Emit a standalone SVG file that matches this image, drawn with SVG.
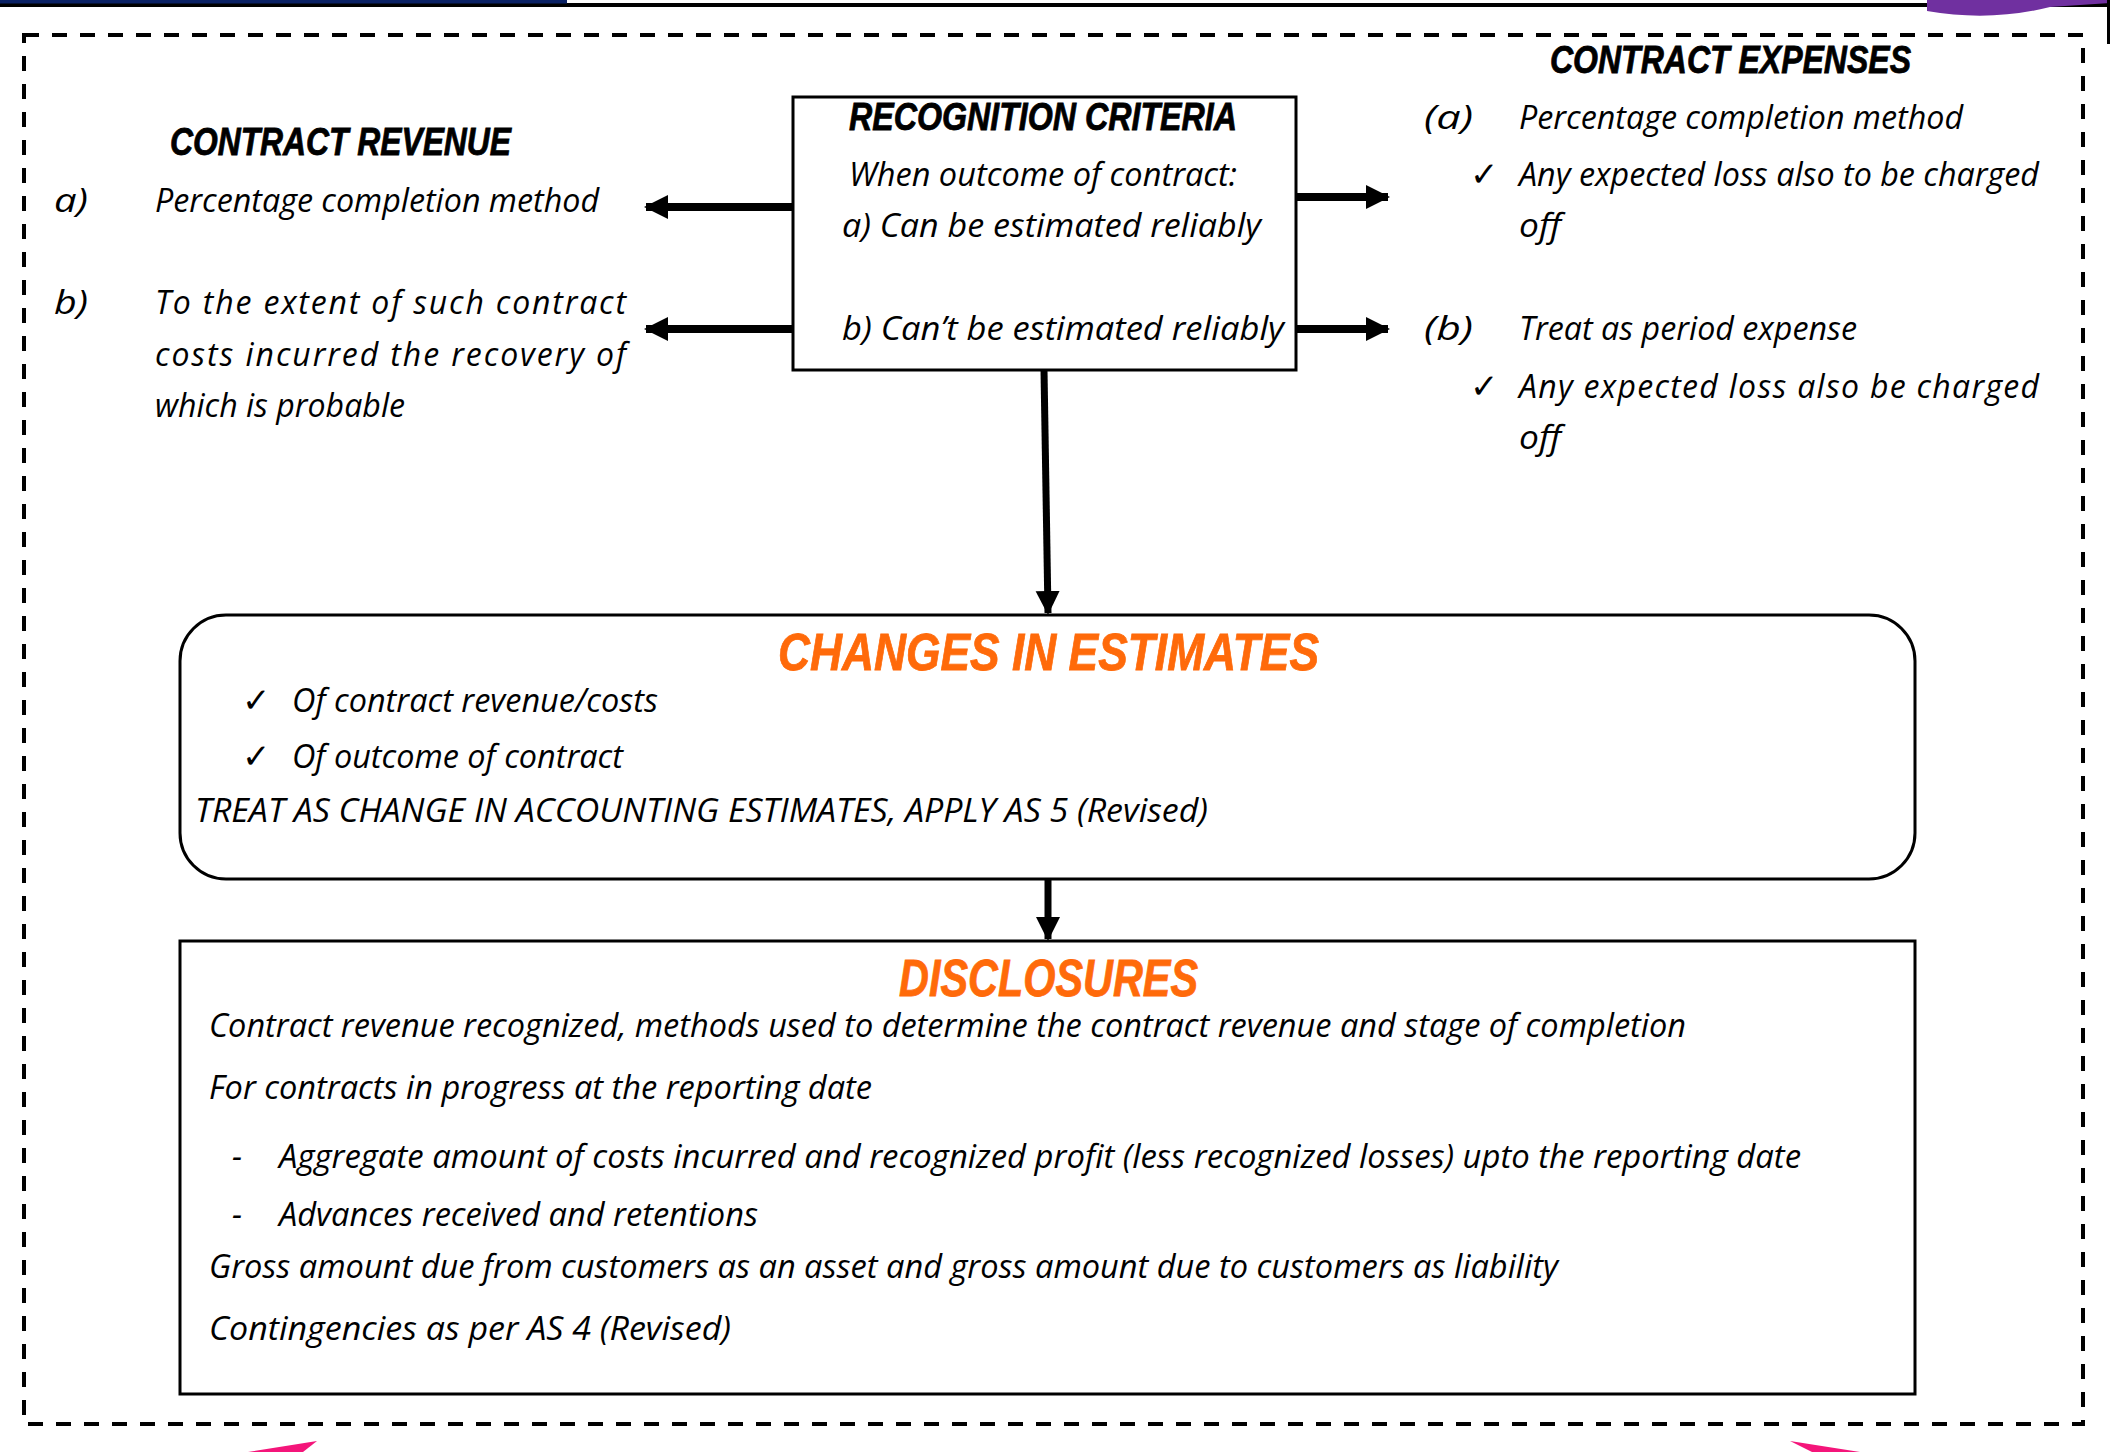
<svg xmlns="http://www.w3.org/2000/svg" width="2110" height="1452" viewBox="0 0 2110 1452">
  <defs>
    <style>
      .body { font-family: "Open Sans", "Liberation Sans", sans-serif; font-style: italic; font-size: 32px; fill: #000; }
      .head { font-family: "Liberation Sans", "DejaVu Sans", sans-serif; font-weight: 900; font-style: italic; font-size: 38px; fill: #000; stroke: #000; stroke-width: 0.8; }
      .orange { font-family: "Liberation Sans", "DejaVu Sans", sans-serif; font-weight: 900; font-style: italic; font-size: 52px; fill: #FF6A0A; stroke: #FF6A0A; stroke-width: 0.8; }
      .tick { font-family: "DejaVu Sans", sans-serif; font-size: 34px; fill: #000; }
      .box { fill: #fff; stroke: #000; stroke-width: 3; }
      .conn { stroke: #000; fill: none; }
    </style>
    <marker id="headWide" markerUnits="userSpaceOnUse" markerWidth="26" markerHeight="26" refX="22" refY="12" orient="auto">
      <path d="M0,0 L24,12 L0,24 Z" fill="#000"/>
    </marker>
    <marker id="headNarrow" markerUnits="userSpaceOnUse" markerWidth="26" markerHeight="26" refX="22" refY="12" orient="auto">
      <path d="M0,0 L24,12 L0,24 Z" fill="#000"/>
    </marker>
  </defs>

  <rect width="2110" height="1452" fill="#fff"/>

  <!-- page trim: top rule, corner swoosh and bottom accents -->
  <rect x="0" y="3" width="2110" height="4" fill="#000"/>
  <rect x="0" y="0" width="567" height="3.5" fill="#0B2265"/>
  <path d="M1927,0 L2110,0 L2110,3 L2050,7 Q1990,22 1927,11 Z" fill="#7030A0"/>
  <rect x="2107" y="0" width="3" height="44" fill="#000"/>
  <path d="M248,1452 L317,1441 L303,1452 Z" fill="#F4157A"/>
  <path d="M1790,1441 L1860,1452 L1812,1452 Z" fill="#F4157A"/>

  <!-- outer dashed frame -->
  <rect x="24" y="35" width="2059" height="1389" fill="none" stroke="#000" stroke-width="4" stroke-dasharray="15 13"/>

  <!-- connectors -->
  <g id="connectors" class="conn">
    <line x1="793" y1="207" x2="646" y2="207" stroke-width="8" marker-end="url(#headWide)"/>
    <line x1="793" y1="329" x2="646" y2="329" stroke-width="8" marker-end="url(#headWide)"/>
    <line x1="1296" y1="197" x2="1388" y2="197" stroke-width="8" marker-end="url(#headWide)"/>
    <line x1="1296" y1="329" x2="1388" y2="329" stroke-width="8" marker-end="url(#headWide)"/>
    <line x1="1044" y1="370" x2="1048" y2="613" stroke-width="7" marker-end="url(#headNarrow)"/>
    <line x1="1048" y1="879" x2="1048" y2="939" stroke-width="7" marker-end="url(#headNarrow)"/>
  </g>

  <!-- contract revenue -->
  <g id="contract-revenue">
    <text class="head" x="170" y="155" textLength="341" lengthAdjust="spacingAndGlyphs">CONTRACT REVENUE</text>
    <text class="body" x="54" y="212" textLength="34" lengthAdjust="spacingAndGlyphs">a)</text>
    <text class="body" x="155" y="212" textLength="444" lengthAdjust="spacingAndGlyphs">Percentage completion method</text>
    <text class="body" x="54" y="314" textLength="34" lengthAdjust="spacingAndGlyphs">b)</text>
    <text class="body" x="155" y="314" textLength="471" lengthAdjust="spacing">To the extent of such contract</text>
    <text class="body" x="155" y="366" textLength="471" lengthAdjust="spacing">costs incurred the recovery of</text>
    <text class="body" x="155" y="417" textLength="250" lengthAdjust="spacingAndGlyphs">which is probable</text>
  </g>

  <!-- recognition criteria -->
  <g id="recognition-criteria">
    <rect class="box" x="793" y="97" width="503" height="273" stroke-width="2"/>
    <text class="head" x="849" y="130" textLength="388" lengthAdjust="spacingAndGlyphs">RECOGNITION CRITERIA</text>
    <text class="body" x="849" y="186" textLength="388" lengthAdjust="spacingAndGlyphs">When outcome of contract:</text>
    <text class="body" x="842" y="237" textLength="419" lengthAdjust="spacingAndGlyphs">a) Can be estimated reliably</text>
    <text class="body" x="842" y="340" textLength="442" lengthAdjust="spacingAndGlyphs">b) Can’t be estimated reliably</text>
  </g>

  <!-- contract expenses -->
  <g id="contract-expenses">
    <text class="head" x="1550" y="73" textLength="361" lengthAdjust="spacingAndGlyphs">CONTRACT EXPENSES</text>
    <text class="body" x="1424" y="129" textLength="49" lengthAdjust="spacingAndGlyphs">(a)</text>
    <text class="body" x="1519" y="129" textLength="444" lengthAdjust="spacingAndGlyphs">Percentage completion method</text>
    <text class="tick" x="1470" y="186">✓</text>
    <text class="body" x="1519" y="186" textLength="520" lengthAdjust="spacingAndGlyphs">Any expected loss also to be charged</text>
    <text class="body" x="1519" y="237" textLength="42" lengthAdjust="spacingAndGlyphs">off</text>
    <text class="body" x="1424" y="340" textLength="49" lengthAdjust="spacingAndGlyphs">(b)</text>
    <text class="body" x="1519" y="340" textLength="338" lengthAdjust="spacingAndGlyphs">Treat as period expense</text>
    <text class="tick" x="1470" y="398">✓</text>
    <text class="body" x="1519" y="398" textLength="520" lengthAdjust="spacing">Any expected loss also be charged</text>
    <text class="body" x="1519" y="449" textLength="42" lengthAdjust="spacingAndGlyphs">off</text>
  </g>

  <!-- changes in estimates -->
  <g id="changes-in-estimates">
    <rect class="box" x="180" y="615" width="1735" height="264" rx="46" ry="46"/>
    <text class="orange" x="778" y="670" textLength="541" lengthAdjust="spacingAndGlyphs">CHANGES IN ESTIMATES</text>
    <text class="tick" x="242" y="712">✓</text>
    <text class="body" x="292" y="712" textLength="366" lengthAdjust="spacingAndGlyphs">Of contract revenue/costs</text>
    <text class="tick" x="242" y="768">✓</text>
    <text class="body" x="292" y="768" textLength="331" lengthAdjust="spacingAndGlyphs">Of outcome of contract</text>
    <text class="body" x="195" y="822" textLength="1013" lengthAdjust="spacingAndGlyphs">TREAT AS CHANGE IN ACCOUNTING ESTIMATES, APPLY AS 5 (Revised)</text>
  </g>

  <!-- disclosures -->
  <g id="disclosures">
    <rect class="box" x="180" y="941" width="1735" height="453"/>
    <text class="orange" x="899" y="996" textLength="299" lengthAdjust="spacingAndGlyphs">DISCLOSURES</text>
    <text class="body" x="209" y="1037" textLength="1477" lengthAdjust="spacingAndGlyphs">Contract revenue recognized, methods used to determine the contract revenue and stage of completion</text>
    <text class="body" x="209" y="1099" textLength="663" lengthAdjust="spacingAndGlyphs">For contracts in progress at the reporting date</text>
    <text class="body" x="232" y="1168">-</text>
    <text class="body" x="279" y="1168" textLength="1522" lengthAdjust="spacingAndGlyphs">Aggregate amount of costs incurred and recognized profit (less recognized losses) upto the reporting date</text>
    <text class="body" x="232" y="1226">-</text>
    <text class="body" x="279" y="1226" textLength="479" lengthAdjust="spacingAndGlyphs">Advances received and retentions</text>
    <text class="body" x="209" y="1278" textLength="1349" lengthAdjust="spacingAndGlyphs">Gross amount due from customers as an asset and gross amount due to customers as liability</text>
    <text class="body" x="209" y="1340" textLength="522" lengthAdjust="spacingAndGlyphs">Contingencies as per AS 4 (Revised)</text>
  </g>
</svg>
